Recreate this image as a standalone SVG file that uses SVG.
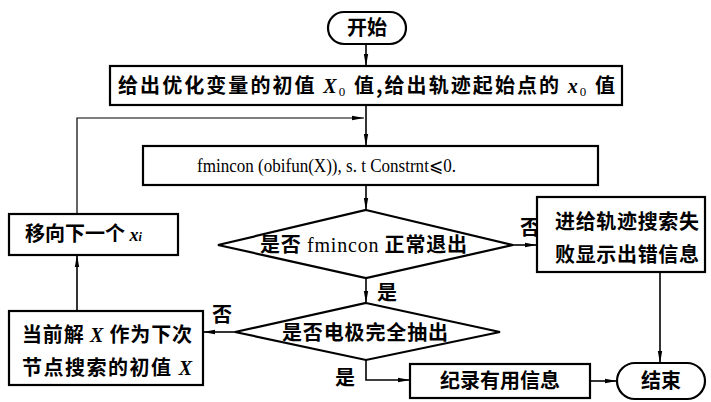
<svg xmlns="http://www.w3.org/2000/svg" width="711" height="402" viewBox="0 0 711 402">
<style>
.box{fill:#fff;stroke:#000;stroke-width:2.2}
.ln{fill:none;stroke:#000;stroke-width:1.6}
.thin{fill:none;stroke:#000;stroke-width:1.2}
.cn{font-family:"Noto Sans CJK SC","Noto Sans CJK JP",sans-serif;font-weight:700;font-size:20px;fill:#000}
.lat{font-family:"Liberation Serif",serif;font-weight:400}
.it{font-family:"Liberation Serif",serif;font-style:italic;font-weight:700}
</style>
<defs>
<marker id="ar" viewBox="0 0 12 6" refX="12" refY="3" markerWidth="12" markerHeight="6" markerUnits="userSpaceOnUse" orient="auto">
<path d="M0,0.8 L12,3 L0,5.2 z" fill="#000"/>
</marker>
</defs>
<rect width="711" height="402" fill="#fff"/>
<g id="connectors">
<line class="ln" x1="366" y1="44" x2="366" y2="66" marker-end="url(#ar)"/>
<line class="ln" x1="366" y1="105" x2="366" y2="146" marker-end="url(#ar)"/>
<polyline class="thin" points="77,214 77,118 364,118" marker-end="url(#ar)"/>
<line class="ln" x1="366" y1="185" x2="366" y2="210" marker-end="url(#ar)"/>
<line class="ln" x1="513" y1="245" x2="537" y2="245" marker-end="url(#ar)"/>
<line class="ln" x1="366" y1="278" x2="366" y2="303" marker-end="url(#ar)"/>
<line class="ln" x1="235" y1="332" x2="203" y2="332" marker-end="url(#ar)"/>
<line class="ln" x1="77" y1="311" x2="77" y2="255" marker-end="url(#ar)"/>
<polyline class="ln" points="366,360 366,380 410,380" marker-end="url(#ar)"/>
<line class="ln" x1="590" y1="381" x2="617" y2="381" marker-end="url(#ar)"/>
<line class="ln" x1="660" y1="272" x2="660" y2="363" marker-end="url(#ar)"/>
<text class="cn" x="520" y="235" font-size="18">否</text>
<text class="cn" x="377" y="300" font-size="18">是</text>
<text class="cn" x="212" y="322" font-size="18">否</text>
<text class="cn" x="335" y="385" font-size="18">是</text>
</g>
<g id="start">
<rect class="box" x="328" y="12" width="78" height="32" rx="16"/>
<text class="cn" x="367" y="35" text-anchor="middle">开始</text>
</g>
<g id="init">
<rect class="box" x="110" y="66" width="512" height="39"/>
<text class="cn" x="118" y="93" font-size="21" textLength="497" lengthAdjust="spacing">给出优化变量的初值 <tspan class="it">X</tspan><tspan class="lat" font-size="13" dy="3">0</tspan><tspan dy="-3"> 值,给出轨迹起始点的 </tspan><tspan class="it">x</tspan><tspan class="lat" font-size="13" dy="3">0</tspan><tspan dy="-3"> 值</tspan></text>
</g>
<g id="fmincon">
<rect class="box" x="143" y="146" width="455" height="39"/>
<text x="197" y="172" font-family="Liberation Serif, serif" font-size="19" textLength="259" lengthAdjust="spacingAndGlyphs">fmincon (obifun(X)), s. t Constrnt⩽0.</text>
</g>
<g id="decision1">
<polygon class="box" points="366,210 513,245 366,278 218,245"/>
<text class="cn" x="260" y="252" textLength="207" lengthAdjust="spacing">是否 <tspan class="lat">fmincon</tspan> 正常退出</text>
</g>
<g id="fail">
<rect class="box" x="537" y="197" width="168" height="75"/>
<text class="cn" x="555" y="229" textLength="144" lengthAdjust="spacing">进给轨迹搜索失</text>
<text class="cn" x="555" y="262" textLength="144" lengthAdjust="spacing">败显示出错信息</text>
</g>
<g id="next">
<rect class="box" x="9" y="214" width="169" height="41"/>
<text class="cn" x="25" y="241">移向下一个 <tspan class="it" font-size="18">x</tspan><tspan class="it" font-size="12">i</tspan></text>
</g>
<g id="decision2">
<polygon class="box" points="366,303 500,332 366,360 235,332"/>
<text class="cn" x="282" y="340" textLength="166" lengthAdjust="spacing">是否电极完全抽出</text>
</g>
<g id="current">
<rect class="box" x="9" y="311" width="194" height="74"/>
<text class="cn" x="22" y="342" textLength="170" lengthAdjust="spacing">当前解 <tspan class="it">X</tspan> 作为下次</text>
<text class="cn" x="22" y="375" textLength="170" lengthAdjust="spacing">节点搜索的初值 <tspan class="it">X</tspan></text>
</g>
<g id="record">
<rect class="box" x="410" y="364" width="180" height="34"/>
<text class="cn" x="500" y="388" text-anchor="middle">纪录有用信息</text>
</g>
<g id="end">
<rect class="box" x="617" y="363" width="88" height="36" rx="18"/>
<text class="cn" x="661" y="388" text-anchor="middle">结束</text>
</g>
</svg>
